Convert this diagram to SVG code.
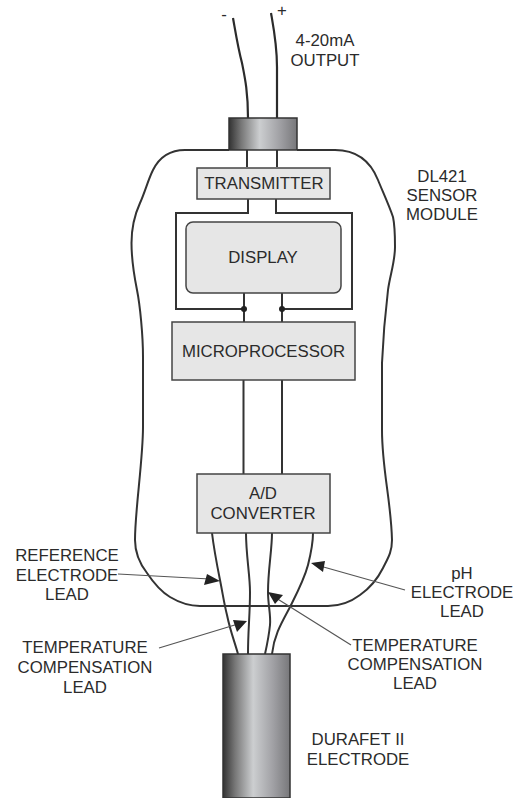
<svg xmlns="http://www.w3.org/2000/svg" width="522" height="798" viewBox="0 0 522 798">
<style>
text{font-family:"Liberation Sans",Arial,sans-serif;font-size:16.800px;fill:#2b2b2b;text-anchor:middle}
.w{fill:none;stroke:#2b2b2b;stroke-width:2.200}
.t{fill:none;stroke:#333;stroke-width:2}
.b{fill:#e6e6e6;stroke:#444;stroke-width:1.500}
.a{fill:none;stroke:#555;stroke-width:1.200}
.h{fill:#222}
</style>
<defs>
<linearGradient id="g" x1="0" x2="1" y1="0" y2="0">
<stop offset="0" stop-color="#333"/>
<stop offset=".18" stop-color="#777"/>
<stop offset=".45" stop-color="#ccced0"/>
<stop offset=".75" stop-color="#a0a0a4"/>
<stop offset="1" stop-color="#77777a"/>
</linearGradient>
</defs>
<rect width="522" height="798" fill="#fff"/>
<g id="module">
<path class="t" d="M229 150H185C168 150 158 160 153 170S145 192 140 203S131.500 228 131.500 243S134 275 137 290S143 335 143 357V427C143 460 135 510 135 540C135 553 140 564 147 573C153 582 160 591 170 597C180 603 188 606 200 606H328C342 606 352 601 360 595C370 588 378 578 383 568C388 558 392 552 392 540C391 500 382 470 382 430V363C383 340 385 315 388 290C390 275 395 262 395 247C395 235 395 226 393 217C389 205 382 190 378 180C372 165 360 150 335 150H297"/>
</g>
<g id="connectors">
<path class="w" d="M233 18C236 35 238 48 242 63C245 78 248 92 248 118"/>
<path class="w" d="M271 13C274 30 277 45 277 67V118"/>
<path class="t" d="M247 150V167M277 150V167"/>
<path class="t" d="M248 199V213H176V309H244M276 199V213H352V309H282"/>
<path class="t" d="M244 293V322M282 293V322"/>
<path class="t" d="M243.500 380V474M282 380V474"/>
<path class="t" d="M212 533C214 550 217 565 220 580C223 595 224 603 227 615C230 630 234 640 238 654"/>
<path class="t" d="M246 533C246 555 250 575 250 592C250 615 248 630 248 654"/>
<path class="t" d="M272 533C272 550 268 570 268 592C268 605 271 615 270 625C269 635 267 645 265 654"/>
<path class="t" d="M313 533C313 545 311 553 308 565C304 580 296 595 290 607C282 622 274 635 272 654"/>
</g>
<g id="connector-dots">
<circle class="h" cx="244" cy="309" r="3"/>
<circle class="h" cx="282" cy="309" r="3"/>
</g>
<g id="top-connector"><rect x="229" y="118" width="68" height="32" fill="url(#g)" stroke="#333" stroke-width="1.500"/></g>
<g id="transmitter"><rect class="b" x="197" y="168" width="133" height="31"/><text x="264" y="189">TRANSMITTER</text></g>
<g id="display"><rect class="b" x="186" y="222" width="155" height="71" rx="7"/><text x="263" y="263">DISPLAY</text></g>
<g id="microprocessor"><rect class="b" x="172" y="322" width="183" height="58"/><text x="263.500" y="357">MICROPROCESSOR</text></g>
<g id="adc"><rect class="b" x="197" y="474" width="133" height="59"/><text x="263" y="499">A/D</text><text x="263" y="519">CONVERTER</text></g>
<g id="electrode"><rect x="223" y="654" width="67" height="144" fill="url(#g)" stroke="#333" stroke-width="1.500"/></g>
<g id="annotations">
<path class="a" d="M118 574L210 579M159 648L238 624M351 645L276 598M405 590L320 566"/>
<path class="h" d="M220 581L207 574 204 585ZM247 621L233 620 237 632ZM268 592L283 595 275 604ZM311 563L325 561 323 572Z"/>
<text x="224" y="20">-</text><text x="282" y="16">+</text>
<text x="325" y="46">4-20mA</text><text x="325" y="66">OUTPUT</text>
<text x="442" y="182">DL421</text><text x="442" y="201">SENSOR</text><text x="442" y="220">MODULE</text>
<text x="67" y="561">REFERENCE</text><text x="67" y="581">ELECTRODE</text><text x="67" y="600">LEAD</text>
<text x="462" y="579">pH</text><text x="462" y="598">ELECTRODE</text><text x="462" y="617">LEAD</text>
<text x="85" y="653">TEMPERATURE</text><text x="85" y="673">COMPENSATION</text><text x="85" y="693">LEAD</text>
<text x="415" y="651">TEMPERATURE</text><text x="415" y="670">COMPENSATION</text><text x="415" y="689">LEAD</text>
<text x="358" y="745">DURAFET II</text><text x="358" y="765">ELECTRODE</text>
</g>
</svg>
